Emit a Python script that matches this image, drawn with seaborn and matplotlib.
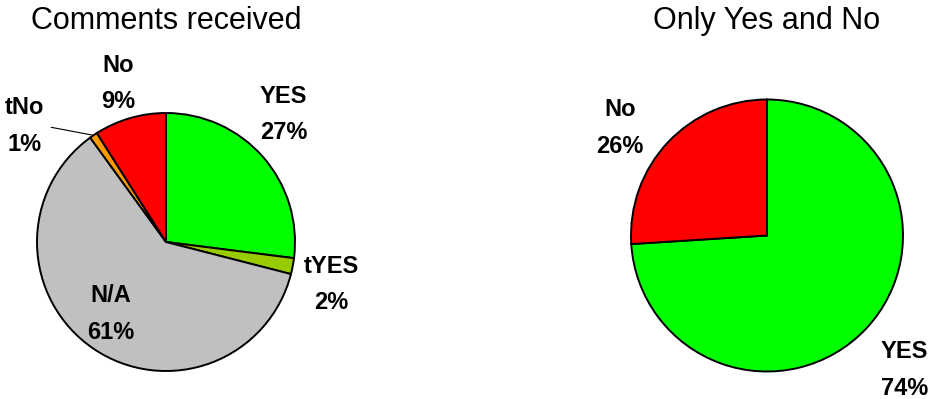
import matplotlib
matplotlib.use("Agg")
import matplotlib.pyplot as plt
import numpy as np
import seaborn as sns

# Comment tallies (percent of all comments)
all_labels = ["YES", "tYES", "N/A", "tNo", "No"]
all_values = [27, 2, 61, 1, 9]
all_colors = ["#00FF00", "#99CC00", "#C0C0C0", "#FF9900", "#FF0000"]

# Only the definite answers
yn_labels = ["YES", "No"]
yn_values = [74, 26]
yn_colors = ["#00FF00", "#FF0000"]

sns.set_theme(style="white")
plt.rcParams["font.family"] = ["Liberation Sans", "DejaVu Sans"]
plt.rcParams["text.color"] = "black"

W, H = 930, 399
fig = plt.figure(figsize=(W / 100, H / 100), dpi=100)


def pie_axes(cx, cy, r):
    """Square axes whose unit circle sits at pixel centre (cx, cy) with radius r."""
    return fig.add_axes([(cx - r) / W, (H - cy - r) / H, 2 * r / W, 2 * r / H])


def draw_pie(ax, values, colors):
    wedges, _ = ax.pie(values, colors=colors, startangle=90, counterclock=False,
                       radius=1.0,
                       wedgeprops=dict(edgecolor="black", linewidth=1.4))
    ax.set_xlim(-1, 1)
    ax.set_ylim(-1, 1)
    ax.set_aspect("auto")
    ax.axis("off")
    return wedges


def label_text(name, value):
    return f"{name}\n{value}%"


txt_kw = dict(fontsize=17, fontweight="bold", ha="center", va="center",
              linespacing=1.75, color="black")

# Left pie: all comments
ax1 = pie_axes(166, 242, 129)
draw_pie(ax1, all_values, all_colors)
left_pos = {"YES": (0.91, 0.99), "tYES": (1.28, -0.33), "N/A": (-0.43, -0.56),
            "No": (-0.37, 1.23)}
for name, val in zip(all_labels, all_values):
    if name in left_pos:
        x, y = left_pos[name]
        ax1.text(x, y, label_text(name, val), clip_on=False, **txt_kw)

# tNo gets a leader line to the thin orange wedge
cum = np.cumsum([0] + all_values)
i = all_labels.index("tNo")
mid = np.deg2rad(90 - 360 * (cum[i] + all_values[i] / 2) / sum(all_values))
ax1.annotate(label_text("tNo", all_values[i]),
             xy=(np.cos(mid), np.sin(mid)), xytext=(-1.10, 0.90),
             textcoords="data", annotation_clip=False,
             arrowprops=dict(arrowstyle="-", color="black", lw=0.8,
                             relpos=(1.0, 0.5), shrinkA=3, shrinkB=0),
             **txt_kw)

# Right pie: YES vs No only
ax2 = pie_axes(767, 235.5, 136)
draw_pie(ax2, yn_values, yn_colors)
right_pos = {"YES": (1.01, -0.99), "No": (-1.08, 0.79)}
for name, val in zip(yn_labels, yn_values):
    x, y = right_pos[name]
    ax2.text(x, y, label_text(name, val), clip_on=False, **txt_kw)

# Titles
fig.text(166 / W, 1 - 21 / H, "Comments received", fontsize=22,
         ha="center", va="center")
fig.text(767 / W, 1 - 21 / H, "Only Yes and No", fontsize=22,
         ha="center", va="center")

fig.savefig("out.png", dpi=100, facecolor="white")
